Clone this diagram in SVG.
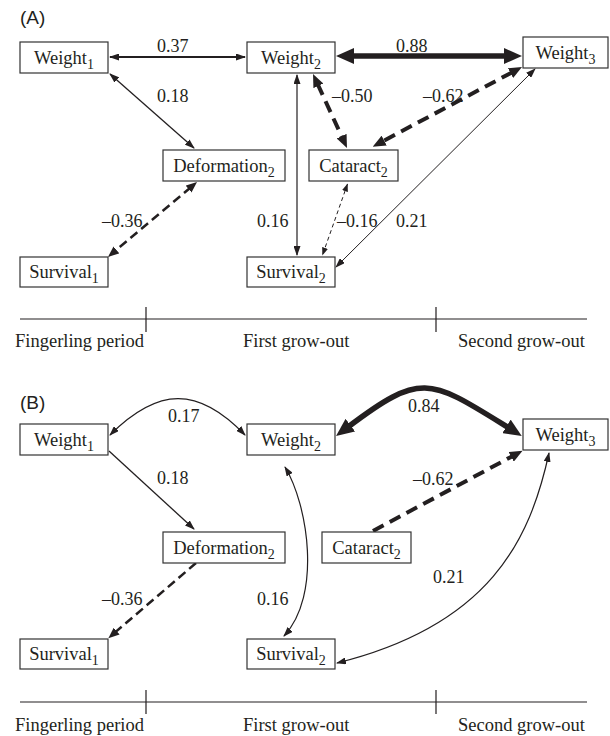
<svg xmlns="http://www.w3.org/2000/svg" width="610" height="736" viewBox="0 0 610 736">
<style>
.box{fill:#fff;stroke:#333;stroke-width:1.2}
.lbl{font-family:"Liberation Serif","Times New Roman",serif;font-size:18.5px;fill:#231f20;text-anchor:middle}
.sub{font-size:14px}
.num{font-family:"Liberation Serif","Times New Roman",serif;font-size:18px;fill:#231f20}
.tl{font-family:"Liberation Serif","Times New Roman",serif;font-size:18.5px;fill:#231f20}
.panel{font-family:"Liberation Sans",Arial,sans-serif;font-size:19px;fill:#231f20}
.ln{fill:none;stroke:#231f20}
.axis{fill:none;stroke:#231f20;stroke-width:1.2}
</style>
<defs>
<marker id="sm" markerUnits="userSpaceOnUse" viewBox="0 0 10 7" markerWidth="10" markerHeight="7" refX="9" refY="3.5" orient="auto-start-reverse"><path d="M0,0 L10,3.5 L0,7 z" fill="#231f20"/></marker>
<marker id="xs" markerUnits="userSpaceOnUse" viewBox="0 0 8 6" markerWidth="8" markerHeight="6" refX="7.5" refY="3" orient="auto-start-reverse"><path d="M0,0 L8,3 L0,6 z" fill="#231f20"/></marker>
<marker id="md2" markerUnits="userSpaceOnUse" viewBox="0 0 11 9" markerWidth="11" markerHeight="9" refX="3" refY="4.5" orient="auto-start-reverse"><path d="M0,0 L11,4.5 L0,9 z" fill="#231f20"/></marker>
<marker id="md" markerUnits="userSpaceOnUse" viewBox="0 0 13 11" markerWidth="13" markerHeight="11" refX="2" refY="5.5" orient="auto-start-reverse"><path d="M0,0 L13,5.5 L0,11 z" fill="#231f20"/></marker>
<marker id="lg" markerUnits="userSpaceOnUse" viewBox="0 0 18 16" markerWidth="18" markerHeight="16" refX="3" refY="8" orient="auto-start-reverse"><path d="M0,0 L18,8 L0,16 z" fill="#231f20"/></marker>
</defs>

<text class="panel" x="20" y="24">(A)</text>
<text class="panel" x="20" y="409">(B)</text>

<g id="connectors-a">
<path class="ln" d="M110,57 H245" stroke-width="2" marker-start="url(#sm)" marker-end="url(#sm)"/>
<path class="ln" d="M351,56 H507" stroke-width="5.5" marker-start="url(#lg)" marker-end="url(#lg)"/>
<path class="ln" d="M110,74 L194,148" stroke-width="1.3" marker-start="url(#sm)" marker-end="url(#sm)"/>
<path class="ln" d="M190.9,187.2 L114.1,251.8" stroke-width="2.5" stroke-dasharray="9 5" marker-start="url(#md2)" marker-end="url(#md2)"/>
<path class="ln" d="M297,75 V255" stroke-width="1.2" marker-start="url(#sm)" marker-end="url(#sm)"/>
<path class="ln" d="M317.6,84 L342.4,138" stroke-width="4" stroke-dasharray="12 7" marker-start="url(#md)" marker-end="url(#md)"/>
<path class="ln" d="M512.3,72.2 L382.4,141.5" stroke-width="4" stroke-dasharray="12 7" marker-start="url(#md)" marker-end="url(#md)"/>
<path class="ln" d="M347.5,184 L322.5,255" stroke-width="1" stroke-dasharray="4 3" marker-start="url(#xs)" marker-end="url(#xs)"/>
<path class="ln" d="M535,69 L336,267" stroke-width="1" marker-start="url(#sm)" marker-end="url(#sm)"/>
<text class="num" x="157" y="52">0.37</text>
<text class="num" x="396" y="52">0.88</text>
<text class="num" x="157" y="101.5">0.18</text>
<text class="num" x="332" y="101.5">–0.50</text>
<text class="num" x="423" y="101.5">–0.62</text>
<text class="num" x="102" y="226.5">–0.36</text>
<text class="num" x="257" y="226.5">0.16</text>
<text class="num" x="337" y="226.5">–0.16</text>
<text class="num" x="396" y="226.5">0.21</text>
</g>

<g id="a-weight1"><rect class="box" x="20" y="42" width="88" height="31"/><text class="lbl" x="64" y="64">Weight<tspan class="sub" dy="4.5">1</tspan></text></g>
<g id="a-weight2"><rect class="box" x="247" y="42" width="88" height="31"/><text class="lbl" x="291" y="64">Weight<tspan class="sub" dy="4.5">2</tspan></text></g>
<g id="a-weight3"><rect class="box" x="523" y="37" width="85" height="31"/><text class="lbl" x="565.5" y="59">Weight<tspan class="sub" dy="4.5">3</tspan></text></g>
<g id="a-deformation2"><rect class="box" x="163" y="150" width="122" height="31"/><text class="lbl" x="224" y="172">Deformation<tspan class="sub" dy="4.5">2</tspan></text></g>
<g id="a-cataract2"><rect class="box" x="309" y="150" width="89" height="31"/><text class="lbl" x="353.5" y="172">Cataract<tspan class="sub" dy="4.5">2</tspan></text></g>
<g id="a-survival1"><rect class="box" x="20" y="257" width="88" height="30"/><text class="lbl" x="64" y="278">Survival<tspan class="sub" dy="4.5">1</tspan></text></g>
<g id="a-survival2"><rect class="box" x="247" y="257" width="88" height="30"/><text class="lbl" x="291" y="278">Survival<tspan class="sub" dy="4.5">2</tspan></text></g>

<g id="timeline-a">
<path class="axis" d="M20,319 H587 M146,307 V332 M436,307 V332"/>
<text class="tl" x="15" y="346.5">Fingerling period</text>
<text class="tl" x="243" y="346.5">First grow-out</text>
<text class="tl" x="458" y="346.5">Second grow-out</text>
</g>

<g id="connectors-b">
<path class="ln" d="M110,435 C158,387 198,386 245,435" stroke-width="1.2" marker-start="url(#sm)" marker-end="url(#sm)"/>
<path class="ln" d="M109,451 L194,529" stroke-width="1.3" marker-end="url(#sm)"/>
<path class="ln" d="M196,563 L114.4,633" stroke-width="2.5" stroke-dasharray="9 5" marker-end="url(#md2)"/>
<path class="ln" d="M285,467 C308,505 322,595 284,636" stroke-width="1.2" marker-start="url(#sm)" marker-end="url(#sm)"/>
<path class="ln" d="M348,427 C422,371 430,379 509,428" stroke-width="5.5" marker-start="url(#lg)" marker-end="url(#lg)"/>
<path class="ln" d="M373,531 L512.9,455.9" stroke-width="4" stroke-dasharray="12 7" marker-end="url(#md)"/>
<path class="ln" d="M549,453 C530,540 490,625 337,663" stroke-width="1.2" marker-start="url(#sm)" marker-end="url(#sm)"/>
<text class="num" x="168" y="422">0.17</text>
<text class="num" x="408" y="412">0.84</text>
<text class="num" x="157" y="484">0.18</text>
<text class="num" x="413" y="485">–0.62</text>
<text class="num" x="102" y="605">–0.36</text>
<text class="num" x="257" y="605">0.16</text>
<text class="num" x="433" y="583">0.21</text>
</g>

<g id="b-weight1"><rect class="box" x="20" y="424" width="88" height="31"/><text class="lbl" x="64" y="446">Weight<tspan class="sub" dy="4.5">1</tspan></text></g>
<g id="b-weight2"><rect class="box" x="247" y="424" width="88" height="31"/><text class="lbl" x="291" y="446">Weight<tspan class="sub" dy="4.5">2</tspan></text></g>
<g id="b-weight3"><rect class="box" x="523" y="419" width="85" height="31"/><text class="lbl" x="565.5" y="441">Weight<tspan class="sub" dy="4.5">3</tspan></text></g>
<g id="b-deformation2"><rect class="box" x="163" y="532" width="122" height="31"/><text class="lbl" x="224" y="554">Deformation<tspan class="sub" dy="4.5">2</tspan></text></g>
<g id="b-cataract2"><rect class="box" x="322" y="532" width="89" height="31"/><text class="lbl" x="366.5" y="554">Cataract<tspan class="sub" dy="4.5">2</tspan></text></g>
<g id="b-survival1"><rect class="box" x="20" y="639" width="88" height="30"/><text class="lbl" x="64" y="660">Survival<tspan class="sub" dy="4.5">1</tspan></text></g>
<g id="b-survival2"><rect class="box" x="247" y="639" width="88" height="30"/><text class="lbl" x="291" y="660">Survival<tspan class="sub" dy="4.5">2</tspan></text></g>

<g id="timeline-b">
<path class="axis" d="M20,702 H587 M146,690 V714 M436,690 V714"/>
<text class="tl" x="15" y="731">Fingerling period</text>
<text class="tl" x="243" y="731">First grow-out</text>
<text class="tl" x="458" y="731">Second grow-out</text>
</g>
</svg>
